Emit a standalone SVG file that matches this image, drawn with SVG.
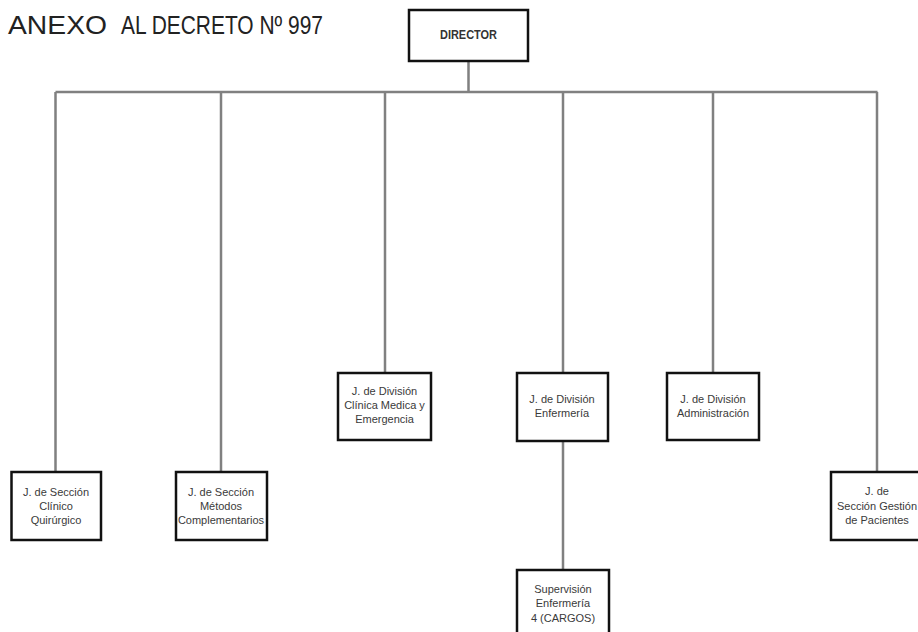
<svg xmlns="http://www.w3.org/2000/svg" width="918" height="632" viewBox="0 0 918 632">
<style>
.box{fill:#fff;stroke:#111;stroke-width:2.5}
.t{font-family:"Liberation Sans",Arial,sans-serif;font-size:11px;fill:#3a3a3a;text-anchor:middle}
.c{stroke:#808080;stroke-width:2.5;fill:none}
</style>
<rect width="918" height="632" fill="#fff"/>
<text x="8" y="34" font-family="Liberation Sans, Arial, sans-serif" font-size="25" fill="#222" textLength="99" lengthAdjust="spacingAndGlyphs">ANEXO</text>
<text x="121" y="34" font-family="Liberation Sans, Arial, sans-serif" font-size="25" fill="#222" textLength="202" lengthAdjust="spacingAndGlyphs">AL DECRETO Nº 997</text>
<g id="connectors">
<path class="c" d="M468.5 61V92M55.5 92H877.5M55.5 92V472M221 92V472M385 92V373M563 92V373M713 92V373M877 92V472M563 441V570"/>
</g>
<g id="director">
<rect class="box" x="409" y="10" width="119" height="51"/>
<text x="468.5" y="39" font-family="Liberation Sans, Arial, sans-serif" font-size="13" font-weight="bold" fill="#333" text-anchor="middle" textLength="57" lengthAdjust="spacingAndGlyphs">DIRECTOR</text>
</g>
<g id="clinico">
<rect class="box" x="11.5" y="472" width="89.5" height="68"/>
<text class="t" x="56" y="496">J. de Sección</text>
<text class="t" x="56" y="510">Clínico</text>
<text class="t" x="56" y="524">Quirúrgico</text>
</g>
<g id="metodos">
<rect class="box" x="176" y="472" width="91" height="68"/>
<text class="t" x="221" y="496">J. de Sección</text>
<text class="t" x="221" y="510">Métodos</text>
<text class="t" x="221" y="524">Complementarios</text>
</g>
<g id="clinica-medica">
<rect class="box" x="338" y="373" width="93" height="67"/>
<text class="t" x="384.5" y="395">J. de División</text>
<text class="t" x="384.5" y="409">Clínica Medica y</text>
<text class="t" x="384.5" y="423">Emergencia</text>
</g>
<g id="enfermeria">
<rect class="box" x="517" y="373" width="91" height="68"/>
<text class="t" x="562" y="403">J. de División</text>
<text class="t" x="562" y="417">Enfermería</text>
</g>
<g id="administracion">
<rect class="box" x="667" y="373" width="92" height="67"/>
<text class="t" x="713" y="403">J. de División</text>
<text class="t" x="713" y="417">Administración</text>
</g>
<g id="gestion">
<rect class="box" x="831" y="472" width="92" height="68"/>
<text class="t" x="877" y="495">J. de</text>
<text class="t" x="877" y="510">Sección Gestión</text>
<text class="t" x="877" y="524">de Pacientes</text>
</g>
<g id="supervision">
<rect class="box" x="517" y="570" width="92" height="70"/>
<text class="t" x="563" y="593">Supervisión</text>
<text class="t" x="563" y="607">Enfermería</text>
<text class="t" x="563" y="622">4 (CARGOS)</text>
</g>
</svg>
